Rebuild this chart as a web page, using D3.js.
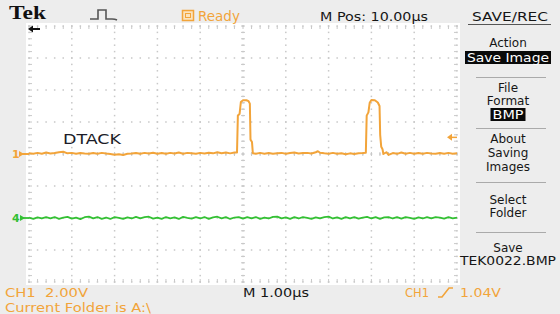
<!DOCTYPE html>
<html><head><meta charset="utf-8">
<script src="https://cdn.jsdelivr.net/npm/d3@7"></script>
<style>
html,body{margin:0;padding:0;background:#ededed;}
svg{display:block;}
</style></head><body>
<svg id="c" width="560" height="314" font-family="DejaVu Sans, sans-serif"></svg>
<script>
// ---- data ----
const ch1Label = "DTACK";
const ch1Points = [
 [0.0,0.05],[0.1,0.02],[0.2,0.07],[0.3,0.02],[0.4,0.09],[0.5,0.03],[0.6,0.06],[0.7,0.11],[0.8,0.14],[0.9,0.04],
 [1.0,0.07],[1.1,0.02],[1.2,0.06],[1.3,0.03],[1.4,0.01],[1.5,0.06],[1.6,0.02],[1.7,0.07],[1.8,0.03],[1.9,0.00],
 [2.0,-0.05],[2.1,-0.01],[2.2,-0.06],[2.3,0.01],[2.4,0.03],[2.5,0.06],[2.6,0.01],[2.7,0.07],[2.8,0.03],[2.9,0.08],
 [3.0,0.02],[3.1,0.06],[3.2,0.01],[3.3,0.07],[3.4,0.03],[3.5,0.09],[3.6,0.02],[3.7,0.07],[3.8,0.04],[3.9,0.01],
 [4.0,0.07],[4.1,0.03],[4.2,0.08],[4.3,0.04],[4.4,0.11],[4.5,0.05],[4.6,0.09],[4.7,0.04],[4.8,0.10],[4.86,0.10],
 [4.88,2.4],[4.92,2.5],[4.95,3.25],[5.0,3.36],[5.08,3.36],[5.13,3.3],[5.16,3.15],[5.175,0.9],[5.21,0.75],[5.23,0.05],
 [5.3,0.02],[5.4,0.07],[5.5,0.02],[5.6,0.06],[5.7,0.01],[5.8,0.05],[5.9,0.07],[6.0,0.02],[6.1,0.06],[6.2,0.09],
 [6.3,0.03],[6.4,0.06],[6.5,0.07],[6.6,0.03],[6.7,0.11],[6.75,0.17],[6.8,0.08],[6.9,0.04],[7.0,0.02],[7.1,0.07],
 [7.2,0.01],[7.3,0.05],[7.4,-0.01],[7.5,0.04],[7.6,0.00],[7.7,0.05],[7.8,0.06],[7.87,0.08],
 [7.89,2.4],[7.93,2.6],[7.96,3.2],[8.0,3.37],[8.08,3.36],[8.15,3.22],[8.19,3.0],[8.205,1.2],[8.23,0.45],[8.26,0.3],[8.28,0.0],
 [8.35,0.11],[8.4,-0.06],[8.5,0.06],[8.6,0.01],[8.7,0.09],[8.8,0.02],[8.9,0.07],[9.0,0.01],[9.1,0.06],[9.2,0.02],
 [9.3,0.07],[9.4,0.03],[9.5,0.01],[9.6,0.06],[9.7,0.02],[9.8,0.07],[9.9,0.02],[10.0,0.05]
];
const ch4Points = [
 [0.0,0.02],[0.1,-0.06],[0.2,0.04],[0.3,-0.03],[0.4,0.05],[0.5,-0.02],[0.6,0.06],[0.7,-0.05],[0.8,0.03],[0.9,0.07],
 [1.0,-0.04],[1.1,0.02],[1.2,-0.07],[1.3,0.05],[1.4,0.09],[1.5,-0.02],[1.6,0.06],[1.7,-0.05],[1.8,0.03],[1.9,-0.06],
 [2.0,0.05],[2.1,0.01],[2.2,-0.06],[2.3,0.04],[2.4,-0.03],[2.5,0.07],[2.6,-0.02],[2.7,0.05],[2.8,0.08],[2.9,-0.04],
 [3.0,0.03],[3.1,-0.05],[3.2,0.06],[3.3,-0.02],[3.4,0.04],[3.5,-0.06],[3.6,0.07],[3.7,0.01],[3.8,-0.04],[3.9,0.05],
 [4.0,-0.03],[4.1,0.06],[4.2,-0.05],[4.3,0.04],[4.4,0.08],[4.5,-0.02],[4.6,0.05],[4.7,-0.06],[4.8,0.03],[4.9,0.06],
 [5.0,-0.04],[5.1,0.05],[5.2,-0.02],[5.3,0.06],[5.4,-0.05],[5.5,0.03],[5.6,-0.03],[5.7,0.07],[5.8,0.09],[5.9,-0.02],
 [6.0,0.04],[6.1,-0.05],[6.2,0.05],[6.3,-0.03],[6.4,0.06],[6.5,0.01],[6.6,-0.05],[6.7,0.04],[6.8,-0.02],[6.9,0.06],
 [7.0,0.09],[7.1,-0.03],[7.2,0.04],[7.3,-0.05],[7.4,0.05],[7.5,-0.02],[7.6,0.06],[7.7,-0.04],[7.8,0.03],[7.9,0.07],
 [8.0,-0.03],[8.1,0.05],[8.2,-0.05],[8.3,0.04],[8.4,0.06],[8.5,-0.03],[8.6,0.05],[8.7,-0.04],[8.8,0.06],[8.9,0.01],
 [9.0,-0.05],[9.1,0.04],[9.2,-0.03],[9.3,0.06],[9.4,-0.02],[9.5,0.05],[9.6,0.02],[9.7,-0.04],[9.8,0.05],[9.9,-0.02],[10.0,0.03]
];
const timeDomain = [0, 10];      // µs, 1.00 µs/div
const voltDomain = [-8, 8];      // V, 2.00 V/div
const ch4OffsetVolts = -4;       // ch4 ground 2 div below centre
const triggerLevel = 1.04;
const headerTexts = {tek:"Tek", status:"Ready", mpos:"M Pos: 10.00µs", menuTitle:"SAVE/REC"};
const footerTexts = {ch1:"CH1  2.00V", time:"M 1.00µs", trigCh:"CH1", trigLvl:"1.04V", folder:"Current Folder is A:\\"};
const menuGroups = [
 {lines:["Action"], box:"Save Image"},
 {lines:["File","Format"], box:"BMP"},
 {lines:["About","Saving","Images"]},
 {lines:["Select","Folder"]},
 {lines:["Save","TEK0022.BMP"]}
];

// ---- layout ----
const ORANGE="#f2a43a", GREEN="#33c033", GRID="#c8c8c8", INK="#161616";
const L=29, R=457, T=26, B=282;
const svg=d3.select("#c");
const x=d3.scaleLinear().domain(timeDomain).range([L,R]);
const y=d3.scaleLinear().domain(voltDomain).range([B,T]);

svg.append("rect").attr("width",560).attr("height",314).attr("fill","#ededed");
svg.append("rect").attr("x",26).attr("y",23).attr("width",434).attr("height",262).attr("fill","#ffffff");

// grid
const g=svg.append("g");
const xMajor=x.ticks(10), yMajor=y.ticks(8);
const xMinor=d3.range(timeDomain[0],timeDomain[1]+1e-9,0.2);
const yMinor=d3.range(voltDomain[0],voltDomain[1]+1e-9,0.4);
xMajor.forEach(t=>{
  yMinor.forEach(v=>{
    g.append("rect").attr("x",x(t)-0.75).attr("y",y(v)-0.75).attr("width",1.5).attr("height",1.5).attr("fill",GRID);
  });
});
yMajor.forEach(v=>{
  xMinor.forEach(t=>{
    g.append("rect").attr("x",x(t)-0.75).attr("y",y(v)-0.75).attr("width",1.5).attr("height",1.5).attr("fill",GRID);
  });
});
yMinor.forEach(v=>{
  [[x(5)-2,x(5)+2],[L,L+3],[R-3,R]].forEach(([a,b])=>
    g.append("line").attr("x1",a).attr("x2",b).attr("y1",y(v)).attr("y2",y(v)).attr("stroke",GRID).attr("stroke-width",1));
});
xMinor.forEach(t=>{
  [[y(0)-2,y(0)+2],[T,T+3],[B-3,B]].forEach(([a,b])=>
    g.append("line").attr("y1",a).attr("y2",b).attr("x1",x(t)).attr("x2",x(t)).attr("stroke",GRID).attr("stroke-width",1));
});

// traces
const line=d3.line().x(d=>x(d[0])).y(d=>y(d[1]));
svg.append("path").datum(ch4Points.map(d=>[d[0],d[1]+ch4OffsetVolts]))
  .attr("d",line).attr("fill","none").attr("stroke",GREEN).attr("stroke-width",1.8).attr("stroke-linejoin","round");
svg.append("path").datum(ch1Points).attr("d",line).attr("fill","none")
  .attr("stroke",ORANGE).attr("stroke-width",2).attr("stroke-linejoin","round");

// channel label
svg.append("text").attr("x",63).attr("y",144).attr("font-size",14.5).attr("fill","#1c1c28")
  .attr("textLength",58).attr("lengthAdjust","spacingAndGlyphs").text(ch1Label);

// channel markers
const y1=y(0), y4=y(ch4OffsetVolts);
svg.append("text").attr("x",12).attr("y",y1+4).attr("font-size",11).attr("font-weight","bold").attr("fill",ORANGE).text("1");
svg.append("path").attr("d",`M19,${y1-3}L24,${y1}L19,${y1+3}Z`).attr("fill",ORANGE);
svg.append("line").attr("x1",22).attr("x2",L).attr("y1",y1).attr("y2",y1).attr("stroke",ORANGE).attr("stroke-width",2);
svg.append("text").attr("x",12).attr("y",y4+4).attr("font-size",11).attr("font-weight","bold").attr("fill",GREEN).text("4");
svg.append("path").attr("d",`M20,${y4-3}L25,${y4}L20,${y4+3}Z`).attr("fill",GREEN);
svg.append("line").attr("x1",23).attr("x2",L).attr("y1",y4).attr("y2",y4).attr("stroke",GREEN).attr("stroke-width",1.8);
const yt=y(triggerLevel);
svg.append("path").attr("d",`M447,${yt}L452,${yt-3.5}L452,${yt+3.5}Z`).attr("fill",ORANGE);
svg.append("line").attr("x1",451).attr("x2",457).attr("y1",yt).attr("y2",yt).attr("stroke",ORANGE).attr("stroke-width",1.5);
svg.append("path").attr("d","M28,29L33,25.5L33,32.5Z").attr("fill","#111");
svg.append("line").attr("x1",32).attr("x2",40).attr("y1",29).attr("y2",29).attr("stroke","#111").attr("stroke-width",2);

// header
svg.append("text").attr("x",9).attr("y",19).attr("font-family","Liberation Serif, serif").attr("font-weight","bold")
  .attr("font-size",18).attr("fill","#111").attr("textLength",37).attr("lengthAdjust","spacingAndGlyphs").text(headerTexts.tek);
svg.append("path").attr("d","M90,19L98,19L98,10L106,10L106,19L112,19Q115,19 117,20").attr("fill","none").attr("stroke","#555").attr("stroke-width",1.6);
svg.append("rect").attr("x",182.5).attr("y",10.5).attr("width",11).attr("height",10).attr("fill","#fbe3bd").attr("stroke",ORANGE).attr("stroke-width",1.5);
svg.append("rect").attr("x",185.5).attr("y",13.5).attr("width",5).attr("height",4).attr("fill","none").attr("stroke",ORANGE).attr("stroke-width",1);
svg.append("text").attr("x",198).attr("y",21).attr("font-size",13.5).attr("fill",ORANGE).text(headerTexts.status);
svg.append("text").attr("x",374).attr("y",21).attr("font-size",12.5).attr("text-anchor","middle").attr("fill",INK)
  .attr("textLength",108).attr("lengthAdjust","spacingAndGlyphs").text(headerTexts.mpos);
svg.append("text").attr("x",510).attr("y",21).attr("font-size",12.5).attr("text-anchor","middle").attr("fill",INK)
  .attr("textLength",76).attr("lengthAdjust","spacingAndGlyphs").text(headerTexts.menuTitle);
svg.append("line").attr("x1",468).attr("x2",551).attr("y1",24.5).attr("y2",24.5).attr("stroke","#555").attr("stroke-width",1);

// menu
const MX=508;
const menuLayout=[
 {lineY:[47], boxY:51, boxW:86},
 {lineY:[92,105], boxY:108, boxW:35},
 {lineY:[143,157,171]},
 {lineY:[204,217]},
 {lineY:[252,265]}
];
const sepY=[77,128,182,232];
menuGroups.forEach((grp,i)=>{
  const lay=menuLayout[i];
  grp.lines.forEach((s,j)=>{
    const t=svg.append("text").attr("x",MX).attr("y",lay.lineY[j]).attr("font-size",12).attr("text-anchor","middle").attr("fill",INK).text(s);
    if(s.length>8) t.attr("textLength",96).attr("lengthAdjust","spacingAndGlyphs");
  });
  if(grp.box){
    svg.append("rect").attr("x",MX-lay.boxW/2).attr("y",lay.boxY).attr("width",lay.boxW).attr("height",13).attr("fill","#0a0a0a");
    svg.append("text").attr("x",MX).attr("y",lay.boxY+10.5).attr("font-size",12).attr("text-anchor","middle").attr("fill","#fff")
      .attr("textLength",lay.boxW-4).attr("lengthAdjust","spacingAndGlyphs").text(grp.box);
  }
});
sepY.forEach(s=>svg.append("line").attr("x1",476).attr("x2",546).attr("y1",s+0.5).attr("y2",s+0.5).attr("stroke","#aaa").attr("stroke-width",1));

// footer
svg.append("text").attr("x",5).attr("y",297).attr("font-size",13).attr("fill",ORANGE).attr("xml:space","preserve")
  .attr("textLength",83).attr("lengthAdjust","spacingAndGlyphs").text(footerTexts.ch1);
svg.append("text").attr("x",243).attr("y",297).attr("font-size",13).attr("fill",INK)
  .attr("textLength",66).attr("lengthAdjust","spacingAndGlyphs").text(footerTexts.time);
svg.append("text").attr("x",405).attr("y",297).attr("font-size",13).attr("fill",ORANGE)
  .attr("textLength",24).attr("lengthAdjust","spacingAndGlyphs").text(footerTexts.trigCh);
svg.append("path").attr("d","M438,297L442,297L449,288L453,288").attr("fill","none").attr("stroke",ORANGE).attr("stroke-width",1.6);
svg.append("text").attr("x",460).attr("y",297).attr("font-size",13).attr("fill",ORANGE)
  .attr("textLength",41).attr("lengthAdjust","spacingAndGlyphs").text(footerTexts.trigLvl);
svg.append("text").attr("x",5).attr("y",312).attr("font-size",13).attr("fill",ORANGE)
  .attr("textLength",146).attr("lengthAdjust","spacingAndGlyphs").text(footerTexts.folder);
</script>
</body></html>
